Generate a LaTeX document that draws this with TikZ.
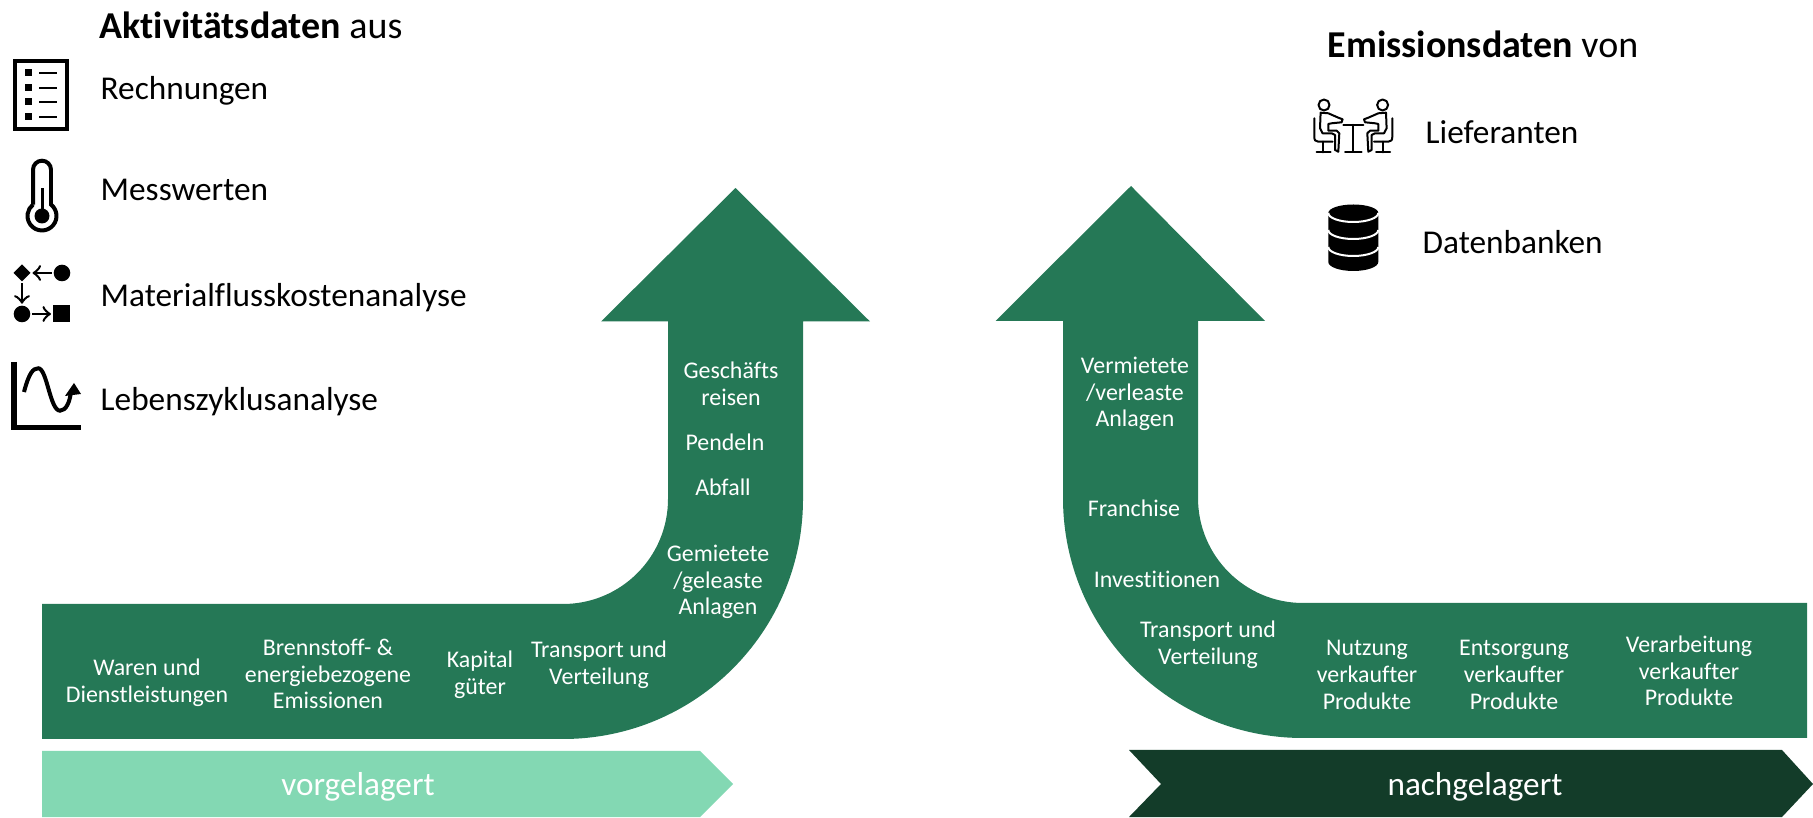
\documentclass[tikz,border=0pt]{standalone}
\usepackage{fontspec}
\setmainfont[Ligatures=NoCommon]{Carlito}
\usetikzlibrary{shapes.geometric}
\definecolor{arrowgreen}{HTML}{257856}
\definecolor{lightgreen}{HTML}{83D8B3}
\definecolor{darkgreen}{HTML}{133C29}
\begin{document}
\begin{tikzpicture}
\tikzstyle{label}=[text=white,align=center,inner sep=0pt,font=\fontsize{6.8}{7.6}\selectfont];
\tikzstyle{entry}=[anchor=west,inner sep=0pt,font=\fontsize{9.47}{12}\selectfont];
\tikzstyle{head}=[anchor=west,inner sep=0pt,font=\fontsize{10.8}{14}\selectfont];
\tikzstyle{band}=[text=white,inner sep=0pt,font=\fontsize{9.45}{10}\selectfont];
\tikzstyle{flowshape}=[fill=black,inner sep=0pt,outer sep=0pt];
\tikzstyle{flowline}=[->,line width=0.025cm,shorten <=0.02cm,shorten >=0.02cm];
\tikzstyle{thinline}=[line width=0.02cm,line cap=round,line join=round];

\useasboundingbox (0,0) rectangle (18.13,8.17);

\fill [arrowgreen] (0.42,0.78) -- (5.63,0.78) arc[start angle=270,end angle=360,radius=2.4] -- (8.03,4.955) -- (8.70,4.955) -- (7.355,6.29) -- (6.01,4.955) -- (6.68,4.955) -- (6.68,3.18) arc[start angle=0,end angle=-90,radius=1.05] -- (0.42,2.13) -- cycle;
\fill [arrowgreen] (18.07,0.79) -- (13.03,0.79) arc[start angle=270,end angle=180,radius=2.4] -- (10.63,4.96) -- (9.955,4.96) -- (11.31,6.31) -- (12.65,4.96) -- (11.98,4.96) -- (11.98,3.19) arc[start angle=180,end angle=270,radius=1.05] -- (18.07,2.14) -- cycle;

\fill [lightgreen] (0.42,0) -- (0.42,0.66) -- (7.00,0.66) -- (7.33,0.33) -- (7.00,0) -- cycle;
\fill [darkgreen] (11.29,0) -- (11.61,0.33) -- (11.29,0.67) -- (17.82,0.67) -- (18.13,0.33) -- (17.82,0) -- cycle;
\node [band] (up) at (3.58,0.30) {vorgelagert};
\node [band] (down) at (14.75,0.30) {nachgelagert};

\node [label] (trip) at (7.31,4.33) {Geschäfts\\reisen};
\node [label] (commute) at (7.25,3.75) {Pendeln};
\node [label] (waste) at (7.23,3.30) {Abfall};
\node [label] (rented) at (7.18,2.35) {Gemietete\\/geleaste\\Anlagen};
\node [label] (goods) at (1.47,1.34) {Waren und\\Dienstleistungen};
\node [label] (fuel) at (3.28,1.43) {Brennstoff- \&\\energiebezogene\\Emissionen};
\node [label] (capital) at (4.80,1.42) {Kapital\\güter};
\node [label] (transup) at (5.99,1.52) {Transport und\\Verteilung};

\node [label] (leased) at (11.35,4.23) {Vermietete\\/verleaste\\Anlagen};
\node [label] (franchise) at (11.34,3.09) {Franchise};
\node [label] (invest) at (11.57,2.38) {Investitionen};
\node [label] (transdown) at (12.08,1.72) {Transport und\\Verteilung};
\node [label] (use) at (13.67,1.42) {Nutzung\\verkaufter\\Produkte};
\node [label] (disposal) at (15.14,1.42) {Entsorgung\\verkaufter\\Produkte};
\node [label] (process) at (16.89,1.46) {Verarbeitung\\verkaufter\\Produkte};

\node [head] (activity) at (0.99,7.92) {\textbf{Aktivitätsdaten} aus};
\node [entry] (bills) at (1.00,7.26) {Rechnungen};
\node [entry] (meter) at (1.00,6.27) {Messwerten};
\node [entry] (mfca) at (1.00,5.19) {Materialflusskostenanalyse};
\node [entry] (lca) at (1.00,4.15) {Lebenszyklusanalyse};
\node [head] (emission) at (13.27,7.73) {\textbf{Emissionsdaten} von};
\node [entry] (supplier) at (14.25,6.85) {Lieferanten};
\node [entry] (database) at (14.22,5.75) {Datenbanken};

\draw [line width=0.04cm] (0.15,6.88) rectangle (0.67,7.56);
\foreach \y in {7.44,7.29,7.15,7.00} {
  \fill (0.25,\y-0.035) rectangle (0.32,\y+0.035);
  \draw [line width=0.02cm] (0.39,\y) -- (0.57,\y);
}

\draw [line width=0.04cm] (0.33,6.124) -- (0.33,6.473) arc[start angle=180,end angle=0,radius=0.09] -- (0.51,6.124) arc[start angle=51.6,end angle=-231.6,radius=0.145];
\fill (0.42,6.01) circle (0.075);
\draw [line width=0.03cm] (0.42,6.01) -- (0.42,6.29);

\node [flowshape,diamond,minimum size=0.17cm] (fa) at (0.22,5.44) {};
\node [flowshape,circle,minimum size=0.166cm] (fb) at (0.62,5.44) {};
\node [flowshape,circle,minimum size=0.166cm] (fc) at (0.22,5.03) {};
\node [flowshape,minimum size=0.17cm] (fd) at (0.615,5.03) {};
\draw [flowline] (fb) -- (fa);
\draw [flowline] (fa) -- (fc);
\draw [flowline] (fc) -- (fd);

\draw [line width=0.05cm] (0.14,4.55) -- (0.14,3.89) -- (0.81,3.89);
\draw [line width=0.04cm] (0.24,4.25) .. controls (0.29,4.44) and (0.33,4.487) .. (0.383,4.487) .. controls (0.47,4.487) and (0.50,4.063) .. (0.60,4.063) .. controls (0.66,4.063) and (0.70,4.15) .. (0.71,4.26);
\fill (0.74,4.34) -- (0.81,4.23) -- (0.65,4.21) -- cycle;

\foreach \s in {1,-1} {
  \begin{scope}[shift={(13.533,7.27)},xscale=\s]
    \draw [thinline] (-0.293,-0.15) circle (0.055);
    \draw [thinline] (-0.39,-0.283) -- (-0.39,-0.467) .. controls (-0.39,-0.50) and (-0.38,-0.517) .. (-0.35,-0.517) -- (-0.207,-0.517);
    \draw [thinline] (-0.30,-0.517) -- (-0.30,-0.623);
    \draw [thinline] (-0.367,-0.623) -- (-0.227,-0.623);
    \draw [thinline] (-0.327,-0.227) -- (-0.333,-0.383) -- (-0.307,-0.433) -- (-0.217,-0.433) -- (-0.183,-0.45) -- (-0.183,-0.6) -- (-0.15,-0.617) -- (-0.14,-0.433) -- (-0.167,-0.407) -- (-0.25,-0.407) -- (-0.25,-0.34) -- (-0.217,-0.333) -- (-0.117,-0.323) -- (-0.107,-0.293) -- (-0.15,-0.277) -- (-0.25,-0.233) -- cycle;
    \draw [thinline] (0,-0.35) -- (-0.10,-0.35);
    \draw [thinline] (0,-0.35) -- (0,-0.617) -- (-0.083,-0.617);
  \end{scope}
}

\fill (13.283,6.04) arc[start angle=180,end angle=0,x radius=0.25,y radius=0.085] -- (13.783,5.55) arc[start angle=0,end angle=-180,x radius=0.25,y radius=0.09] -- cycle;
\foreach \y in {6.04,5.87,5.70} {
  \draw [white,line width=0.02cm] (13.283,\y) arc[start angle=180,end angle=360,x radius=0.25,y radius=0.09];
}
\foreach \y in {5.90,5.72,5.55} {
  \fill [white] (14.01,\y) circle (0.018);
}
\end{tikzpicture}
\end{document}
